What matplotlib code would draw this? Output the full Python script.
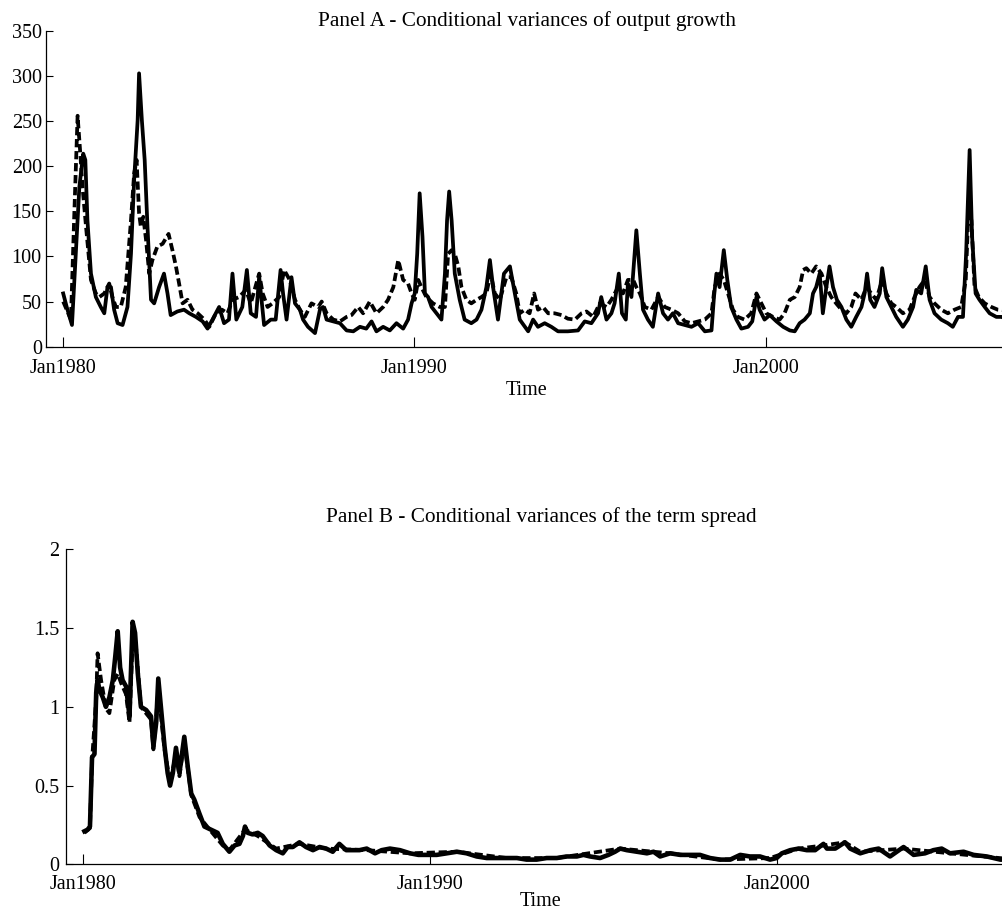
import matplotlib.pyplot as plt

plt.rcParams['font.family'] = 'Liberation Serif'

# Panel A - conditional variances of output growth (decimal year, value)
a_solid_t = [1980.00, 1980.10, 1980.25, 1980.36, 1980.46, 1980.57, 1980.63, 1980.69, 1980.79, 1980.93,
             1981.07, 1981.17, 1981.26, 1981.36, 1981.45, 1981.55, 1981.69, 1981.83, 1981.93, 1982.02,
             1982.12, 1982.16, 1982.24, 1982.32, 1982.40, 1982.50, 1982.59, 1982.73, 1982.87, 1982.97,
             1983.06, 1983.25, 1983.44, 1983.59, 1983.78, 1983.97, 1984.11, 1984.25, 1984.44, 1984.58,
             1984.72, 1984.82, 1984.93, 1985.10, 1985.23, 1985.34, 1985.49, 1985.58, 1985.72, 1985.91,
             1986.05, 1986.19, 1986.26, 1986.36, 1986.50, 1986.60, 1986.74, 1986.83, 1986.97, 1987.17,
             1987.31, 1987.40, 1987.50, 1987.69, 1987.88, 1988.07, 1988.26, 1988.45, 1988.63, 1988.78,
             1988.92, 1989.11, 1989.30, 1989.49, 1989.68, 1989.82, 1989.92, 1990.01, 1990.08, 1990.15,
             1990.23, 1990.30, 1990.39, 1990.49, 1990.63, 1990.77, 1990.87, 1990.93, 1990.99, 1991.06,
             1991.15, 1991.29, 1991.43, 1991.62, 1991.77, 1991.91, 1992.05, 1992.15, 1992.24, 1992.38,
             1992.55, 1992.72, 1992.86, 1993.00, 1993.24, 1993.38, 1993.52, 1993.71, 1993.90, 1994.09,
             1994.37, 1994.66, 1994.85, 1995.04, 1995.23, 1995.32, 1995.47, 1995.61, 1995.70, 1995.82,
             1995.91, 1996.02, 1996.08, 1996.18, 1996.32, 1996.42, 1996.51, 1996.65, 1996.79, 1996.94,
             1997.08, 1997.22, 1997.36, 1997.51, 1997.70, 1997.89, 1998.08, 1998.27, 1998.46, 1998.53,
             1998.60, 1998.69, 1998.81, 1998.91, 1999.02, 1999.17, 1999.31, 1999.50, 1999.62, 1999.74,
             1999.83, 1999.97, 2000.12, 2000.31, 2000.50, 2000.69, 2000.83, 2000.97, 2001.11, 2001.26,
             2001.35, 2001.44, 2001.54, 2001.63, 2001.73, 2001.82, 2001.92, 2002.03, 2002.16, 2002.30,
             2002.44, 2002.58, 2002.73, 2002.82, 2002.89, 2002.98, 2003.10, 2003.25, 2003.32, 2003.44,
             2003.58, 2003.72, 2003.91, 2004.05, 2004.20, 2004.29, 2004.43, 2004.56, 2004.67, 2004.81,
             2005.00, 2005.19, 2005.33, 2005.48, 2005.62, 2005.71, 2005.81, 2005.88, 2005.98, 2006.09,
             2006.24, 2006.38, 2006.57, 2006.72, 2006.90]
a_solid_v = [59, 44, 24, 103, 177, 214, 207, 140, 81, 55,
             44, 37, 66, 66, 41, 26, 24, 44, 103, 185,
             251, 303, 251, 207, 133, 52, 48, 66, 81, 59,
             35, 39, 41, 37, 33, 28, 20, 30, 44, 26,
             30, 81, 30, 44, 85, 37, 33, 78, 24, 30,
             30, 85, 59, 30, 77, 48, 41, 30, 22, 15,
             41, 44, 30, 28, 26, 18, 17, 22, 20, 28,
             17, 22, 18, 26, 20, 30, 48, 59, 103, 170,
             122, 59, 55, 44, 37, 30, 81, 140, 172, 140,
             81, 52, 30, 26, 30, 41, 66, 96, 66, 30,
             81, 89, 59, 30, 17, 30, 22, 26, 22, 17,
             17, 18, 28, 26, 37, 55, 30, 37, 48, 81,
             37, 30, 70, 55, 129, 81, 41, 30, 22, 59,
             37, 30, 37, 26, 24, 22, 26, 17, 18, 55,
             81, 66, 107, 74, 44, 30, 20, 22, 28, 55,
             41, 30, 35, 28, 22, 18, 17, 26, 30, 37,
             59, 66, 81, 37, 66, 89, 66, 52, 44, 30,
             22, 33, 44, 59, 81, 52, 44, 59, 87, 55,
             44, 33, 22, 30, 44, 63, 59, 89, 52, 37,
             30, 26, 22, 33, 33, 103, 218, 122, 59, 52,
             44, 37, 33, 33, 30]

a_dash_t = [1980.00, 1980.10, 1980.22, 1980.31, 1980.41, 1980.48, 1980.55, 1980.65, 1980.79, 1980.93,
            1981.03, 1981.17, 1981.31, 1981.40, 1981.50, 1981.64, 1981.78, 1981.93, 1982.02, 1982.09,
            1982.16, 1982.21, 1982.28, 1982.36, 1982.45, 1982.54, 1982.68, 1982.83, 1983.00, 1983.11,
            1983.21, 1983.30, 1983.40, 1983.54, 1983.68, 1983.83, 1984.02, 1984.16, 1984.35, 1984.52,
            1984.68, 1984.82, 1985.01, 1985.20, 1985.34, 1985.58, 1985.68, 1985.82, 1985.96, 1986.15,
            1986.29, 1986.45, 1986.60, 1986.74, 1986.88, 1987.07, 1987.26, 1987.36, 1987.50, 1987.69,
            1987.88, 1988.07, 1988.21, 1988.40, 1988.54, 1988.73, 1988.92, 1989.11, 1989.25, 1989.40,
            1989.54, 1989.68, 1989.82, 1989.92, 1990.01, 1990.11, 1990.20, 1990.34, 1990.53, 1990.72,
            1990.87, 1990.96, 1991.06, 1991.15, 1991.25, 1991.34, 1991.48, 1991.62, 1991.77, 1991.91,
            1992.05, 1992.17, 1992.29, 1992.43, 1992.62, 1992.76, 1992.90, 1993.00, 1993.14, 1993.28,
            1993.41, 1993.52, 1993.66, 1993.81, 1993.99, 1994.19, 1994.37, 1994.57, 1994.76, 1994.90,
            1995.09, 1995.28, 1995.47, 1995.61, 1995.80, 1995.94, 1996.08, 1996.23, 1996.32, 1996.42,
            1996.56, 1996.75, 1996.94, 1997.13, 1997.32, 1997.51, 1997.70, 1997.89, 1998.08, 1998.27,
            1998.46, 1998.55, 1998.69, 1998.81, 1998.93, 1999.07, 1999.21, 1999.40, 1999.59, 1999.74,
            1999.88, 2000.02, 2000.21, 2000.40, 2000.54, 2000.69, 2000.83, 2000.97, 2001.07, 2001.16,
            2001.30, 2001.44, 2001.59, 2001.73, 2001.87, 2002.01, 2002.16, 2002.30, 2002.44, 2002.56,
            2002.73, 2002.87, 2003.01, 2003.15, 2003.32, 2003.44, 2003.58, 2003.72, 2003.91, 2004.10,
            2004.24, 2004.38, 2004.53, 2004.67, 2004.81, 2005.00, 2005.19, 2005.38, 2005.57, 2005.70,
            2005.78, 2005.86, 2005.95, 2006.07, 2006.24, 2006.43, 2006.61, 2006.90]
a_dash_v = [50, 41, 30, 140, 256, 218, 177, 133, 74, 59,
            55, 59, 70, 55, 44, 44, 66, 140, 192, 207,
            148, 133, 144, 118, 81, 96, 111, 114, 125, 107,
            89, 70, 48, 52, 41, 37, 30, 22, 37, 41,
            37, 52, 55, 63, 48, 81, 59, 44, 48, 55,
            85, 74, 52, 41, 33, 48, 44, 50, 37, 30,
            28, 33, 35, 44, 37, 50, 37, 44, 52, 66,
            96, 74, 70, 59, 52, 74, 66, 55, 48, 44,
            44, 103, 107, 103, 89, 66, 52, 48, 52, 55,
            59, 81, 59, 52, 77, 77, 59, 37, 41, 37,
            59, 41, 44, 37, 37, 35, 31, 30, 37, 39,
            33, 48, 44, 52, 66, 59, 74, 74, 66, 59,
            44, 41, 55, 44, 41, 37, 28, 26, 28, 30,
            37, 66, 81, 74, 59, 41, 33, 30, 37, 59,
            48, 37, 33, 30, 37, 52, 55, 66, 85, 87,
            81, 89, 81, 66, 55, 48, 41, 37, 44, 59,
            52, 66, 59, 52, 74, 59, 48, 44, 37, 41,
            55, 66, 74, 55, 48, 41, 37, 41, 44, 74,
            155, 140, 66, 55, 48, 44, 41, 40]

# Panel B - conditional variances of the term spread
b_solid_t = [1980.04, 1980.13, 1980.20, 1980.26, 1980.33, 1980.38, 1980.42, 1980.47, 1980.57, 1980.66,
             1980.76, 1980.86, 1980.93, 1981.00, 1981.07, 1981.14, 1981.24, 1981.34, 1981.38, 1981.43,
             1981.50, 1981.58, 1981.67, 1981.82, 1981.96, 1982.03, 1982.11, 1982.17, 1982.25, 1982.35,
             1982.44, 1982.51, 1982.59, 1982.68, 1982.78, 1982.92, 1983.02, 1983.12, 1983.21, 1983.36,
             1983.50, 1983.69, 1983.88, 1984.03, 1984.22, 1984.37, 1984.51, 1984.61, 1984.67, 1984.75,
             1984.89, 1985.04, 1985.18, 1985.38, 1985.57, 1985.76, 1985.90, 1986.05, 1986.24, 1986.43,
             1986.63, 1986.82, 1987.01, 1987.20, 1987.39, 1987.59, 1987.78, 1987.97, 1988.18, 1988.42,
             1988.61, 1988.85, 1989.14, 1989.43, 1989.67, 1989.91, 1990.20, 1990.49, 1990.78, 1991.06,
             1991.35, 1991.64, 1991.93, 1992.22, 1992.51, 1992.79, 1993.08, 1993.37, 1993.66, 1993.95,
             1994.24, 1994.43, 1994.62, 1994.91, 1995.15, 1995.34, 1995.49, 1995.68, 1995.97, 1996.26,
             1996.45, 1996.64, 1996.93, 1997.22, 1997.50, 1997.79, 1998.08, 1998.37, 1998.66, 1998.95,
             1999.23, 1999.52, 1999.81, 2000.00, 2000.15, 2000.39, 2000.63, 2000.87, 2001.11, 2001.35,
             2001.45, 2001.69, 2001.97, 2002.12, 2002.41, 2002.70, 2002.94, 2003.27, 2003.66, 2003.95,
             2004.28, 2004.52, 2004.76, 2005.00, 2005.39, 2005.68, 2006.06, 2006.45, 2006.90]
b_solid_v = [0.21, 0.22, 0.24, 0.68, 0.70, 1.09, 1.17, 1.11, 1.06, 1.00,
             1.06, 1.17, 1.32, 1.48, 1.25, 1.17, 1.13, 0.94, 1.21, 1.54,
             1.47, 1.21, 1.00, 0.98, 0.94, 0.75, 0.90, 1.18, 0.99, 0.75,
             0.58, 0.50, 0.58, 0.74, 0.58, 0.81, 0.62, 0.45, 0.41, 0.32,
             0.24, 0.22, 0.20, 0.13, 0.08, 0.12, 0.13, 0.18, 0.24, 0.20,
             0.19, 0.20, 0.18, 0.12, 0.09, 0.07, 0.11, 0.11, 0.14, 0.11,
             0.09, 0.11, 0.10, 0.08, 0.13, 0.09, 0.09, 0.09, 0.10, 0.07,
             0.09, 0.10, 0.09, 0.07, 0.06, 0.06, 0.06, 0.07, 0.08, 0.07,
             0.05, 0.04, 0.04, 0.04, 0.04, 0.03, 0.03, 0.04, 0.04, 0.05,
             0.05, 0.06, 0.05, 0.04, 0.06, 0.08, 0.10, 0.09, 0.08, 0.07,
             0.08, 0.05, 0.07, 0.06, 0.06, 0.06, 0.04, 0.03, 0.03, 0.06,
             0.05, 0.05, 0.03, 0.04, 0.07, 0.09, 0.10, 0.09, 0.09, 0.13,
             0.10, 0.10, 0.14, 0.10, 0.07, 0.09, 0.10, 0.05, 0.11, 0.06,
             0.07, 0.09, 0.10, 0.07, 0.08, 0.06, 0.05, 0.03, 0.03]

b_dash_t = [1980.04, 1980.20, 1980.26, 1980.38, 1980.42, 1980.52, 1980.66, 1980.76, 1980.90, 1981.00,
            1981.10, 1981.24, 1981.34, 1981.43, 1981.52, 1981.67, 1981.96, 1982.03, 1982.17, 1982.35,
            1982.51, 1982.68, 1982.78, 1982.92, 1983.12, 1983.36, 1983.69, 1984.03, 1984.22, 1984.67,
            1985.04, 1985.57, 1986.24, 1987.01, 1988.18, 1989.43, 1990.78, 1992.22, 1993.66, 1995.49,
            1996.93, 1998.37, 1999.81, 2000.63, 2001.35, 2001.97, 2002.41, 2003.66, 2005.00, 2006.90]
b_dash_v = [0.20, 0.23, 0.66, 1.05, 1.34, 1.17, 0.99, 0.96, 1.17, 1.21,
            1.15, 1.08, 0.90, 1.42, 1.40, 1.00, 0.92, 0.73, 1.10, 0.73,
            0.52, 0.70, 0.56, 0.78, 0.44, 0.30, 0.21, 0.12, 0.09, 0.22,
            0.18, 0.10, 0.13, 0.10, 0.09, 0.07, 0.08, 0.04, 0.04, 0.10,
            0.07, 0.03, 0.04, 0.10, 0.12, 0.14, 0.08, 0.10, 0.07, 0.03]

tick_years = [1980, 1990, 2000]
tick_labels = ['Jan1980', 'Jan1990', 'Jan2000']

a_yticks = [0, 50, 100, 150, 200, 250, 300, 350]
b_yticks = [0, 0.5, 1, 1.5, 2]
b_ylabels = ['0', '0.5', '1', '1.5', '2']

FS = 14.5      # tick labels and "Time"
FS_TITLE = 15.3
LW = 2.7

fig = plt.figure(figsize=(10.02, 9.13), dpi=100)
ax_a = fig.add_axes([0.0459, 0.6203, 0.960, 0.3458])
ax_b = fig.add_axes([0.0659, 0.0533, 0.948, 0.345])


def style(ax, yticks, ylabels, ymax, title, tpad, ypad, xpad, lpad):
    ax.set_xlim(1979.51, 2006.9)
    ax.set_ylim(0, ymax)
    ax.set_xticks(tick_years)
    ax.set_xticklabels(tick_labels, fontsize=FS)
    ax.set_yticks(yticks)
    ax.set_yticklabels(ylabels, fontsize=FS)
    ax.tick_params(axis='x', direction='in', length=7, width=0.8, pad=xpad)
    ax.tick_params(axis='y', direction='in', length=5, width=0.8, pad=ypad)
    for s in ['top', 'right']:
        ax.spines[s].set_visible(False)
    for s in ['left', 'bottom']:
        ax.spines[s].set_linewidth(0.9)
    ax.set_title(title, fontsize=FS_TITLE, pad=tpad)
    ax.set_xlabel('Time', fontsize=FS, labelpad=lpad)


ax_a.plot(a_solid_t, a_solid_v, color='black', lw=LW)
ax_a.plot(a_dash_t, a_dash_v, color='black', lw=LW, linestyle=(0, (2.2, 1.0)))
style(ax_a, a_yticks, [str(v) for v in a_yticks], 350,
      'Panel A - Conditional variances of output growth', 3, 3, 9, 2)

ax_b.plot(b_solid_t, b_solid_v, color='black', lw=LW + 0.6)
ax_b.plot(b_dash_t, b_dash_v, color='black', lw=LW, linestyle=(0, (2.2, 1.0)))
style(ax_b, b_yticks, b_ylabels, 2,
      'Panel B - Conditional variances of the term spread', 20, 5, 8, -2)

fig.savefig('out.png', dpi=100)
